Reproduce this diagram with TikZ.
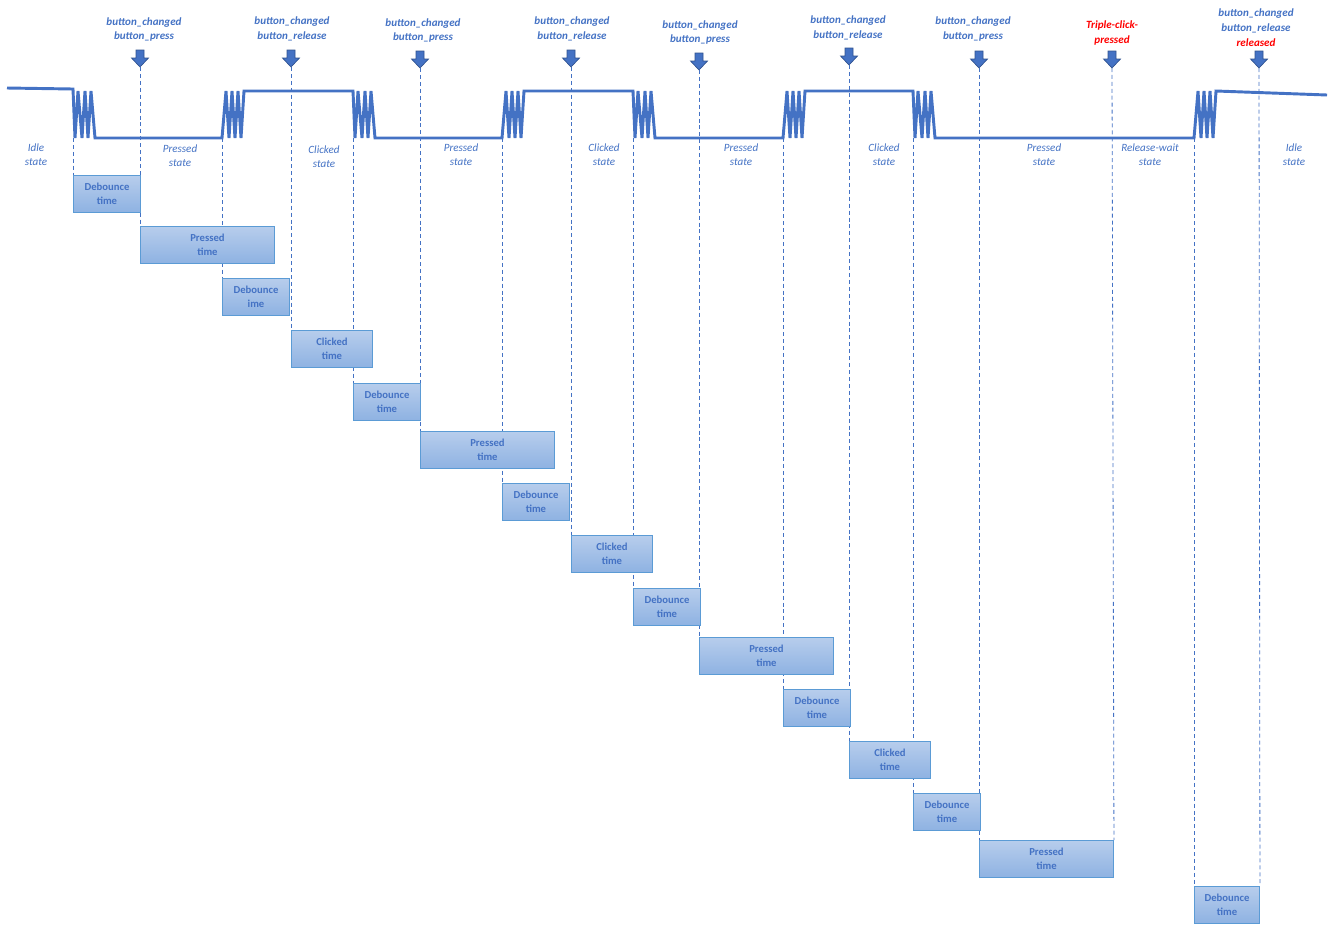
\documentclass[tikz,border=0pt]{standalone}
\usepackage{fontspec}
\setmainfont{Carlito}
\usetikzlibrary{backgrounds}
\definecolor{sigBlue}{HTML}{4472C4}
\definecolor{boxEdge}{HTML}{5B9BD5}
\definecolor{boxTop}{HTML}{B7CDEC}
\definecolor{boxBot}{HTML}{8EB2E2}
\definecolor{arrEdge}{HTML}{2F528F}
\definecolor{evRed}{HTML}{FF0000}

\tikzset{
	signal/.style = {sigBlue, line width = 2.2pt, line join = miter},
	guide/.style = {sigBlue, line width = 0.6pt, dash pattern = on 3pt off 2.2pt},
	timebox/.style = {draw = boxEdge, line width = 0.7pt, top color = boxTop, bottom color = boxBot,
		anchor = north west, minimum height = 27.75pt, inner sep = 0pt, align = center,
		text = sigBlue, font = \fontsize{8}{10.5}\selectfont\bfseries},
	dbbox/.style = {timebox, minimum width = 50.25pt},
	ptbox/.style = {timebox, minimum width = 100.5pt},
	ckbox/.style = {timebox, minimum width = 60.75pt},
	evlabel/.style = {align = center, text = sigBlue, font = \fontsize{8.3}{11}\selectfont\bfseries\itshape},
	stlabel/.style = {align = center, text = sigBlue, font = \fontsize{8.3}{10.5}\selectfont\itshape},
	dnarrow/.pic = {\filldraw [fill = sigBlue, draw = arrEdge, line width = 0.5pt]
		(-4, -17) -- (4, -17) -- (4, -9) -- (8.5, -9) -- (0, 0) -- (-8.5, -9) -- (-4, -9) -- cycle;}
}

\begin{document}
\begin{tikzpicture}[x = 0.75pt, y = -0.75pt]
		\useasboundingbox (0, 0) rectangle (1333, 926);
		%%%%%%%%%%%%% signal
		\draw [signal] (7, 88) -- (73, 89)
			-- ++(2, 49) -- ++(3, -47) -- ++(4, 47) -- ++(3, -47) -- ++(3, 47) -- ++(3, -47) -- ++(4, 47)
			-- (222, 138)
			-- ++(4, -47) -- ++(3, 47) -- ++(3, -47) -- ++(3, 47) -- ++(3, -47) -- ++(3, 47) -- ++(3, -47)
			-- (353, 91)
			-- ++(2, 47) -- ++(3, -47) -- ++(4, 47) -- ++(3, -47) -- ++(3, 47) -- ++(3, -47) -- ++(4, 47)
			-- (502, 138)
			-- ++(4, -47) -- ++(3, 47) -- ++(3, -47) -- ++(3, 47) -- ++(3, -47) -- ++(3, 47) -- ++(3, -47)
			-- (633, 91)
			-- ++(2, 47) -- ++(3, -47) -- ++(4, 47) -- ++(3, -47) -- ++(3, 47) -- ++(3, -47) -- ++(4, 47)
			-- (783, 138)
			-- ++(4, -47) -- ++(3, 47) -- ++(3, -47) -- ++(3, 47) -- ++(3, -47) -- ++(3, 47) -- ++(3, -47)
			-- (913, 91)
			-- ++(2, 47) -- ++(3, -47) -- ++(4, 47) -- ++(3, -47) -- ++(3, 47) -- ++(3, -47) -- ++(4, 47)
			-- (1194, 138)
			-- ++(4, -47) -- ++(3, 47) -- ++(3, -47) -- ++(3, 47) -- ++(3, -47) -- ++(3, 47) -- ++(3, -47)
			-- (1327, 95);
		%%%%%%%%%%%%% edges of the signal
		\coordinate (e1) at (73, 138); \coordinate (e2) at (222, 138);
		\coordinate (e3) at (353, 138); \coordinate (e4) at (502, 138);
		\coordinate (e5) at (633, 138); \coordinate (e6) at (783, 138);
		\coordinate (e7) at (913, 138); \coordinate (e8) at (1194, 138);
		%%%%%%%%%%%%% event arrows
		\coordinate (t1) at (140, 67); \coordinate (t2) at (291, 67);
		\coordinate (t3) at (420, 68); \coordinate (t4) at (571, 67);
		\coordinate (t5) at (699, 70); \coordinate (t6) at (849, 65);
		\coordinate (t7) at (979, 68); \coordinate (t8) at (1112, 68);
		\coordinate (t9) at (1259, 68);
		\pic at (t1) {dnarrow}; \pic at (t2) {dnarrow}; \pic at (t3) {dnarrow};
		\pic at (t4) {dnarrow}; \pic at (t5) {dnarrow}; \pic at (t6) {dnarrow};
		\pic at (t7) {dnarrow}; \pic at (t8) {dnarrow}; \pic at (t9) {dnarrow};
		%%%%%%%%%%%%% event labels
		\node [evlabel] (l1) at (144, 29.5) {button\_changed\\button\_press};
		\node [evlabel] (l2) at (292, 29) {button\_changed\\button\_release};
		\node [evlabel] (l3) at (423, 30.5) {button\_changed\\button\_press};
		\node [evlabel] (l4) at (572, 29) {button\_changed\\button\_release};
		\node [evlabel] (l5) at (700, 32.5) {button\_changed\\button\_press};
		\node [evlabel] (l6) at (848, 28) {button\_changed\\button\_release};
		\node [evlabel] (l7) at (973, 29) {button\_changed\\button\_press};
		\node [evlabel, text = evRed] (l8) at (1112, 33) {Triple-click-\\pressed};
		\node [evlabel] (l9) at (1256, 27.5) {button\_changed\\button\_release\\{\color{evRed}released}};
		%%%%%%%%%%%%% state labels
		\node [stlabel] (s1) at (36, 155) {Idle\\state};
		\node [stlabel] (s2) at (180, 156) {Pressed\\state};
		\node [stlabel] (s3) at (324, 157) {Clicked\\state};
		\node [stlabel] (s4) at (461, 155) {Pressed\\state};
		\node [stlabel] (s5) at (604, 155) {Clicked\\state};
		\node [stlabel] (s6) at (741, 155) {Pressed\\state};
		\node [stlabel] (s7) at (884, 155) {Clicked\\state};
		\node [stlabel] (s8) at (1044, 155) {Pressed\\state};
		\node [stlabel] (s9) at (1150, 155) {Release-wait\\state};
		\node [stlabel] (s10) at (1294, 155) {Idle\\state};
		%%%%%%%%%%%%% timing boxes
		\node [dbbox] (db1) at (73, 175) {Debounce\\time};
		\node [ptbox] (pt1) at (140, 226) {Pressed\\time};
		\node [dbbox] (db2) at (222, 278) {Debounce\\ime};
		\node [ckbox] (ck1) at (291, 330) {Clicked\\time};
		\node [dbbox] (db3) at (353, 383) {Debounce\\time};
		\node [ptbox] (pt2) at (420, 431) {Pressed\\time};
		\node [dbbox] (db4) at (502, 483) {Debounce\\time};
		\node [ckbox] (ck2) at (571, 535) {Clicked\\time};
		\node [dbbox] (db5) at (633, 588) {Debounce\\time};
		\node [ptbox] (pt3) at (699, 637) {Pressed\\time};
		\node [dbbox] (db6) at (783, 689) {Debounce\\time};
		\node [ckbox] (ck3) at (849, 741) {Clicked\\time};
		\node [dbbox] (db7) at (913, 793) {Debounce\\time};
		\node [ptbox] (pt4) at (979, 840) {Pressed\\time};
		\node [timebox, minimum width = 48.75pt] (db8) at (1194, 886) {Debounce\\time};
		%%%%%%%%%%%%% guide lines (behind the boxes)
		\begin{scope}[on background layer]
		\draw [guide] (e1) to (db1.north west); \draw [guide] (t1) to (pt1.north west);
		\draw [guide] (e2) to (db2.north west); \draw [guide] (t2) to (ck1.north west);
		\draw [guide] (e3) to (db3.north west); \draw [guide] (t3) to (pt2.north west);
		\draw [guide] (e4) to (db4.north west); \draw [guide] (t4) to (ck2.north west);
		\draw [guide] (e5) to (db5.north west); \draw [guide] (t5) to (pt3.north west);
		\draw [guide] (e6) to (db6.north west); \draw [guide] (t6) to (ck3.north west);
		\draw [guide] (e7) to (db7.north west); \draw [guide] (t7) to (pt4.north west);
		\draw [guide] (t8) to (pt4.north east);
		\draw [guide] (e8) to (db8.north west); \draw [guide] (t9) to (db8.north east);
		\end{scope}
\end{tikzpicture}
\end{document}
